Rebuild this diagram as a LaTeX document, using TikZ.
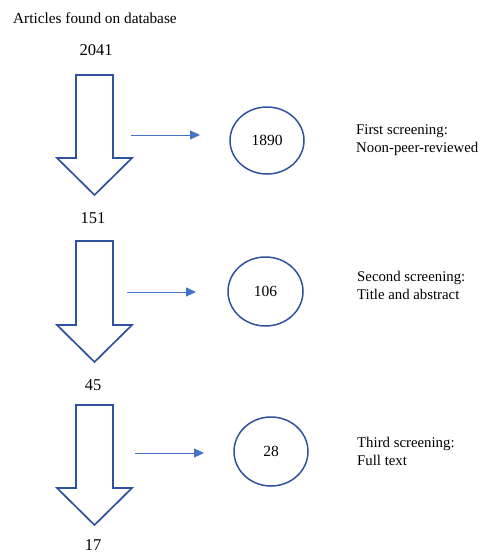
\documentclass[tikz,border=0pt]{standalone}
\usepackage{fontspec}
\setmainfont{Liberation Serif}
\usetikzlibrary{arrows.meta,shapes.geometric}
\definecolor{darkblue}{RGB}{47,82,160}
\definecolor{lightblue}{RGB}{68,114,196}
\tikzset{
  blockarrow/.style={draw=darkblue, line width=1.7pt, line join=miter, fill=white},
  stagecircle/.style={draw=darkblue, line width=1.5pt, ellipse, inner sep=0pt},
  flowarrow/.style={draw=lightblue, line width=0.8pt, -{Triangle[length=10pt,width=9pt]}},
  countnum/.style={font=\fontsize{16.5}{19}\selectfont, inner sep=0pt},
  innernum/.style={font=\fontsize{15.5}{18}\selectfont, inner sep=0pt},
  stagelabel/.style={font=\fontsize{14.8}{18}\selectfont, align=left, anchor=north west, inner sep=0pt},
}
\begin{document}
\begin{tikzpicture}[x=1pt,y=-1pt]
\useasboundingbox (0,0) rectangle (484,554);

\node[font=\fontsize{15.3}{18}\selectfont, anchor=west, inner sep=0pt] (title) at (13,18) {Articles found on database};
\node[countnum] (n2041) at (96,50) {2041};
\node[countnum] (n151) at (93,218) {151};
\node[countnum] (n45) at (93,385) {45};
\node[countnum] (n17) at (93,545.5) {17};

% block arrows
\foreach \t/\w/\b in {75/158/195, 241/325/362, 405/488/525}{
  \draw[blockarrow] (76,\t) -- (113,\t) -- (113,\w) -- (132,\w) -- (94.5,\b) -- (57,\w) -- (76,\w) -- cycle;
}

% circles
\node[stagecircle, minimum width=74pt, minimum height=67pt] (c1) at (267,140.5) {};
\node[innernum] (t1) at (c1) {1890};
\node[stagecircle, minimum width=75pt, minimum height=69pt] (c2) at (265.5,291.5) {};
\node[innernum] (t2) at (c2) {106};
\node[stagecircle, minimum width=74pt, minimum height=69pt] (c3) at (271,451.5) {};
\node[innernum] (t3) at (c3) {28};

% flow arrows
\coordinate (s1) at (131,135);
\coordinate (e1) at (200,135);
\coordinate (s2) at (127,292);
\coordinate (e2) at (196,292);
\coordinate (s3) at (135,453);
\coordinate (e3) at (204,453);
\draw[flowarrow] (s1) -- (e1);
\draw[flowarrow] (s2) -- (e2);
\draw[flowarrow] (s3) -- (e3);

% labels
\node[stagelabel] (l1) at (356,124) {First screening:\\Noon-peer-reviewed};
\node[stagelabel] (l2) at (357,271) {Second screening:\\Title and abstract};
\node[stagelabel] (l3) at (357,437) {Third screening:\\Full text};
\end{tikzpicture}
\end{document}
